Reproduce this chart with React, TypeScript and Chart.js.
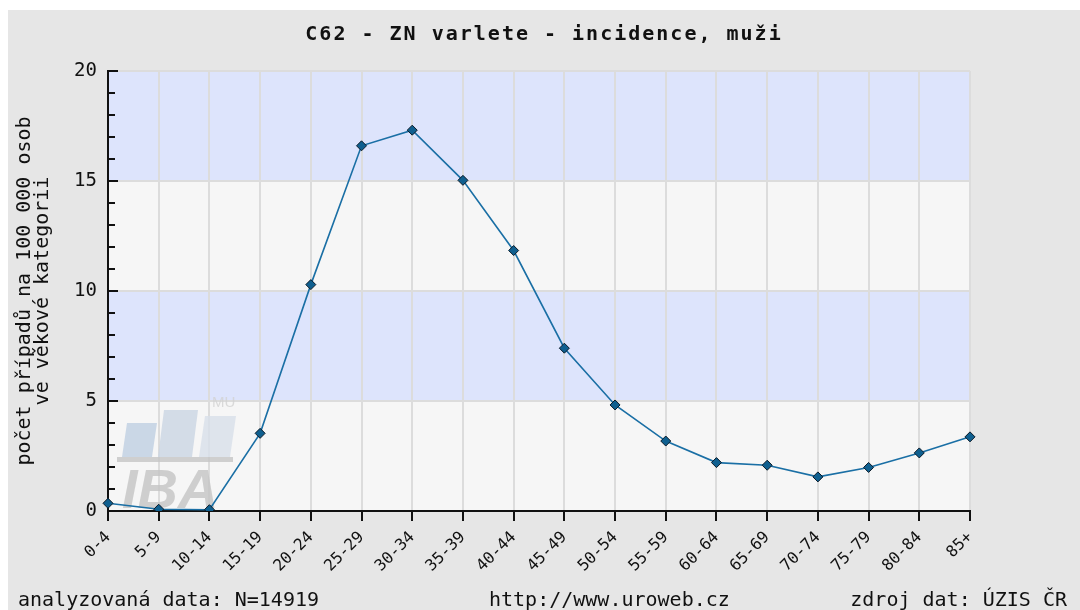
import React, { useEffect, useRef } from "react";
import { Chart, registerables } from "chart.js";

Chart.register(...registerables);

const categories = [
  "0-4", "5-9", "10-14", "15-19", "20-24", "25-29", "30-34", "35-39", "40-44",
  "45-49", "50-54", "55-59", "60-64", "65-69", "70-74", "75-79", "80-84", "85+",
];
const incidence = [
  0.35, 0.08, 0.06, 3.53, 10.29, 16.6, 17.31, 15.03, 11.84,
  7.4, 4.82, 3.18, 2.2, 2.08, 1.55, 1.98, 2.64, 3.37,
];
const yMin = 0;
const yMax = 20;
const yMinorStep = 1;
const yMajorStep = 5;
const bandColors = ["#f6f6f6", "#dde4fc"];

const titleText = "C62 - ZN varlete - incidence, muži";
const yAxisTitle = ["počet případů na 100 000 osob", "ve věkové kategorii"];
const footerLeft = "analyzovaná data: N=14919";
const footerCenter = "http://www.uroweb.cz";
const footerRight = "zdroj dat: ÚZIS ČR";

const MONO = "'DejaVu Sans Mono', 'Liberation Mono', monospace";

const decor = {
  id: "decor",
  beforeDraw(chart: any) {
    const { ctx, chartArea: a, scales } = chart;
    const y = scales.y;
    ctx.save();
    ctx.fillStyle = "#e6e6e6";
    ctx.fillRect(0, 0, chart.width, chart.height);
    for (let v = y.min, i = 0; v < y.max; v += yMajorStep, i++) {
      const top = y.getPixelForValue(v + yMajorStep);
      const bot = y.getPixelForValue(v);
      ctx.fillStyle = bandColors[i % 2];
      ctx.fillRect(a.left, top, a.right - a.left, bot - top);
    }
    ctx.restore();
  },
  beforeDatasetsDraw(chart: any) {
    // faint IBA MU watermark logo
    const { ctx, chartArea: a } = chart;
    const L = a.left;
    const B = a.bottom;
    ctx.save();
    ctx.globalAlpha = 0.8;
    const bars: [number, number, number, number, string][] = [
      [14, 30, -88, 5, "#bfd0e2"],
      [50, 34, -101, 6, "#cad6e4"],
      [91, 31, -95, 6, "#d8e0ea"],
    ];
    for (const [x0, w, topOff, lean, col] of bars) {
      ctx.fillStyle = col;
      ctx.beginPath();
      ctx.moveTo(L + x0, B - 54);
      ctx.lineTo(L + x0 + w, B - 54);
      ctx.lineTo(L + x0 + w + lean, B + topOff);
      ctx.lineTo(L + x0 + lean, B + topOff);
      ctx.closePath();
      ctx.fill();
    }
    ctx.fillStyle = "#c6c6c6";
    ctx.fillRect(L + 9, B - 54, 116, 5);
    ctx.fillStyle = "#c4c4c4";
    ctx.font = "italic bold 56px 'Liberation Sans', Arial, sans-serif";
    ctx.textBaseline = "alphabetic";
    ctx.textAlign = "left";
    ctx.fillText("IBA", L + 14, B - 3);
    ctx.fillStyle = "#d2d2d2";
    ctx.font = "15px 'Liberation Sans', Arial, sans-serif";
    ctx.fillText("MU", L + 104, B - 104);
    ctx.restore();
  },
  afterDraw(chart: any) {
    const { ctx, chartArea: a, scales } = chart;
    const y = scales.y;
    ctx.save();
    // inward y-axis tick marks
    ctx.strokeStyle = "#111";
    ctx.lineWidth = 2;
    for (const t of y.ticks) {
      const py = Math.round(y.getPixelForValue(t.value));
      const len = t.value % yMajorStep === 0 ? 10 : 7;
      ctx.beginPath();
      ctx.moveTo(a.left, py);
      ctx.lineTo(a.left + len, py);
      ctx.stroke();
    }
    // title
    ctx.fillStyle = "#111";
    ctx.textBaseline = "alphabetic";
    ctx.font = `bold 20px ${MONO}`;
    (ctx as any).letterSpacing = "2px";
    ctx.textAlign = "center";
    ctx.fillText(titleText, chart.width / 2, 30);
    (ctx as any).letterSpacing = "0px";
    // footer
    ctx.font = `20px ${MONO}`;
    ctx.textAlign = "left";
    ctx.fillText(footerLeft, 10, 596);
    ctx.fillText(footerCenter, 481, 596);
    ctx.textAlign = "right";
    ctx.fillText(footerRight, 1059, 596);
    ctx.restore();
  },
};

export default function App() {
  const ref = useRef<HTMLCanvasElement | null>(null);

  useEffect(() => {
    document.body.style.margin = "0";
    document.body.style.overflow = "hidden";
    const canvas = ref.current;
    if (!canvas) return;
    const chart = new Chart(canvas, {
      type: "line",
      data: {
        labels: categories,
        datasets: [
          {
            data: incidence,
            borderColor: "#1a6fa5",
            borderWidth: 1.6,
            pointStyle: "rectRot",
            pointRadius: 5,
            pointBackgroundColor: "#0f5f8f",
            pointBorderColor: "#0a1a28",
            pointBorderWidth: 1,
            tension: 0,
            clip: { left: 10, top: 10, right: 10, bottom: 0 },
          } as any,
        ],
      },
      options: {
        animation: false,
        responsive: false,
        devicePixelRatio: 1,
        layout: { padding: { top: 61, right: 110, left: 0, bottom: 0 } },
        plugins: {
          legend: { display: false },
          tooltip: { enabled: false },
        },
        scales: {
          x: {
            offset: false,
            afterFit: (s: any) => {
              s.height = 99;
            },
            border: { color: "#111", width: 2 },
            grid: {
              offset: false,
              color: "#dcdcdc",
              lineWidth: 2,
              tickColor: "#111",
              tickLength: 10,
              tickWidth: 2,
            },
            ticks: {
              autoSkip: false,
              maxRotation: 45,
              minRotation: 45,
              padding: 7,
              color: "#111",
              font: { family: MONO, size: 16 },
            },
          },
          y: {
            min: yMin,
            max: yMax,
            afterFit: (s: any) => {
              s.width = 100;
            },
            border: { color: "#111", width: 2 },
            grid: {
              drawTicks: false,
              lineWidth: 2,
              color: (c: any) =>
                c.tick && c.tick.value % yMajorStep === 0 ? "#dcdcdc" : "rgba(0,0,0,0)",
            },
            ticks: {
              stepSize: yMinorStep,
              autoSkip: false,
              padding: 11,
              color: "#111",
              font: { family: MONO, size: 19 },
              callback: (v: any) => (Number(v) % yMajorStep === 0 ? String(v) : ""),
            },
            title: {
              display: true,
              text: yAxisTitle,
              color: "#111",
              font: { family: MONO, size: 20, lineHeight: "18px" },
              padding: { top: 8, bottom: 0 },
            },
          },
        },
      },
      plugins: [decor],
    });
    return () => chart.destroy();
  }, []);

  return (
    <div style={{ padding: "10px 0 0 8px", width: 1072, height: 600 }}>
      <canvas ref={ref} width={1072} height={600} style={{ display: "block" }} />
    </div>
  );
}
